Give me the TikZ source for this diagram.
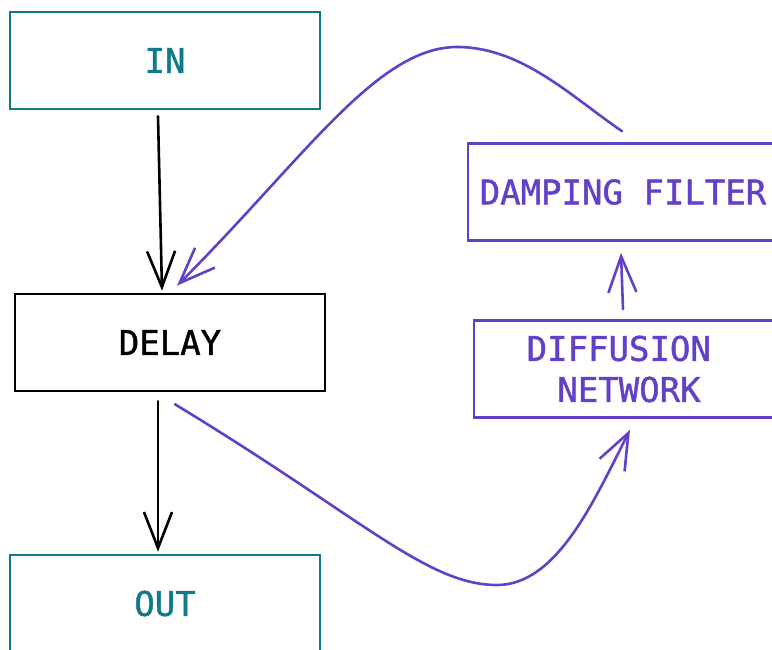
\documentclass[tikz,border=0pt]{standalone}
\usepackage{fontspec}
\newfontfamily\codefont[FakeBold=1.2]{DejaVu Sans Mono}
\usetikzlibrary{arrows.meta,calc}
\definecolor{teal1}{RGB}{16,122,136}
\definecolor{purp}{RGB}{98,64,200}
\begin{document}
\begin{tikzpicture}[x=1pt,y=1pt,
  box/.style={draw,line width=2.6pt,minimum width=310pt,minimum height=97pt,inner sep=0pt,font=\fontsize{34}{41}\selectfont\codefont,align=center},
  arr/.style={line width=2.6pt,line cap=round,-{Straight Barb[length=36pt,width=28pt,line width=2.6pt]}}]
\useasboundingbox (0,0) rectangle (772,649);
\node[box,teal1,text=teal1] (in) at (165,588.5) {IN};
\node[box,black] (delay) at (170,306.5) {DELAY};
\node[box,teal1,text=teal1] (out) at (165,45.5) {OUT};
\node[box,purp,text=purp] (damp) at (623,457) {DAMPING FILTER};
\node[box,purp,text=purp,yshift=-2pt] (diff) at (629,282) {DIFFUSION\hphantom{X}\\NETWORK};
% connector endpoints
\coordinate (a1s) at ($(in.south)+(-7,-6)$);
\coordinate (a1e) at ($(delay.north)+(-8,2)$);
\coordinate (a2s) at ($(delay.south)+(-12,-9)$);
\coordinate (a2e) at ($(out.north)+(-7,2)$);
\coordinate (a3s) at ($(diff.north)+(-6,10)$);
\coordinate (a3e) at ($(damp.south)+(-2,-11)$);
\coordinate (c1s) at ($(damp.north)+(-1,11)$);
\coordinate (c1m) at (457,602);
\coordinate (c1e) at ($(delay.north)+(7,7)$);
\coordinate (c2s) at ($(delay.south)+(5,-12)$);
\coordinate (c2m) at (497,64);
\coordinate (c2e) at ($(diff.south)+(1,-11)$);
\draw[arr,black] (a1s) -- (a1e);
\draw[arr,black] (a2s) -- (a2e);
\draw[arr,purp] (a3s) -- (a3e);
\draw[arr,purp] (c1s) .. controls ($(c1s)+(-50,34)$) and ($(c1m)+(65,0)$) .. (c1m)
   .. controls ($(c1m)+(-80,0)$) and ($(c1e)+(127,127)$) .. (c1e);
\draw[arr,purp] (c2s) .. controls ($(c2s)+(188,-114)$) and ($(c2m)+(-70,0)$) .. (c2m)
   .. controls ($(c2m)+(60,0)$) and ($(c2e)+(-36,-71)$) .. (c2e);
\end{tikzpicture}
\end{document}
